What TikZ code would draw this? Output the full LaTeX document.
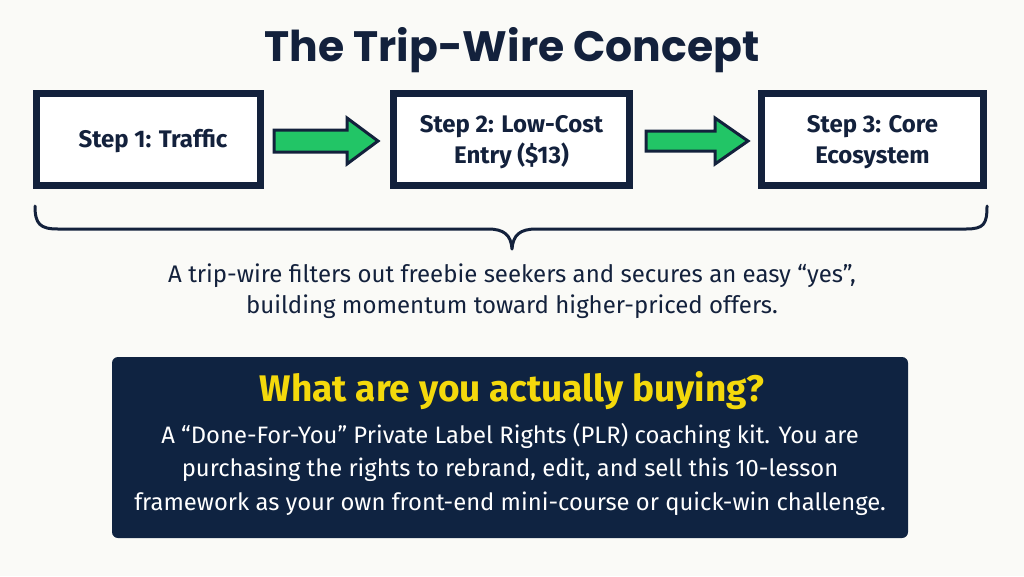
\documentclass[tikz,border=0pt]{standalone}
\usepackage{fontspec}
\setmainfont{Fira Sans}
\newfontfamily\titlefont{Poppins}
\definecolor{bgc}{HTML}{FAFAF7}
\definecolor{navy}{HTML}{13213C}
\definecolor{panel}{HTML}{0F2341}
\definecolor{arrowgreen}{HTML}{22C566}
\definecolor{gold}{HTML}{F4D90C}
\tikzset{
  stepbox/.style={draw=navy, line width=7pt, fill=white, minimum height=92pt},
  steptext/.style={align=center, text=navy, font=\fontsize{24}{31}\selectfont\bfseries},
  flow/.style={fill=arrowgreen, draw=navy, line width=3pt, line join=miter},
  bodytext/.style={text=navy, align=center, font=\fontsize{24}{31}\selectfont},
}
\begin{document}
\begin{tikzpicture}[x=1pt,y=-1pt]
\fill[bgc] (0,0) rectangle (1024,576);
\useasboundingbox (0,0) rectangle (1024,576);
\node[text=navy, font=\titlefont\fontsize{42.5}{50}\selectfont\bfseries] (title) at (512,50) {The Trip-Wire Concept};

\node[stepbox, minimum width=224pt] (s1) at (148,139.5) {};
\node[stepbox, minimum width=236pt] (s2) at (511.5,139.5) {};
\node[stepbox, minimum width=222pt] (s3) at (872.5,139.5) {};
\node[steptext] (t1) at (153,141) {Step 1: Traffic};
\node[steptext] (t2) at (511.5,142) {Step 2: Low-Cost\\Entry (\$13)};
\node[steptext] (t3) at (872.5,142) {Step 3: Core\\Ecosystem};

% arrows
\coordinate (a1e) at (378,141);
\coordinate (a2e) at (748,141);
\draw[flow] (274,130) -- (347,130) -- (347,118) -- (a1e) -- (347,164) -- (347,152) -- (274,152) -- cycle;
\draw[flow] (646,131) -- (715,131) -- (715,118) -- (a2e) -- (715,164) -- (715,151) -- (646,151) -- cycle;

% brace
\coordinate (bl) at (35,206);
\coordinate (br) at (987,206);
\coordinate (bt) at (512,249);
\draw[navy, line width=3pt, line cap=round, line join=round]
  (bl) .. controls (35,224) and (40,229) .. (58,229) -- (488,229)
  .. controls (504,229) and (511,235) .. (bt)
  .. controls (513,235) and (520,229) .. (536,229) -- (966,229)
  .. controls (984,229) and (987,224) .. (br);

\node[bodytext] (desc) at (512,291) {A trip-wire filters out freebie seekers and secures an easy “yes”,\\building momentum toward higher-priced offers.};

% panel
\fill[panel, rounded corners=6pt] (112,357) rectangle (908,538);
\node[text=gold, font=\fontsize{37}{40}\selectfont\bfseries] (q) at (512,391) {What are you actually buying?};
\node[text=white, align=center, font=\fontsize{23.8}{33.5}\selectfont] (ans) at (510,469) {A “Done-For-You” Private Label Rights (PLR) coaching kit. You are\\purchasing the rights to rebrand, edit, and sell this 10-lesson\\framework as your own front-end mini-course or quick-win challenge.};
\end{tikzpicture}
\end{document}
